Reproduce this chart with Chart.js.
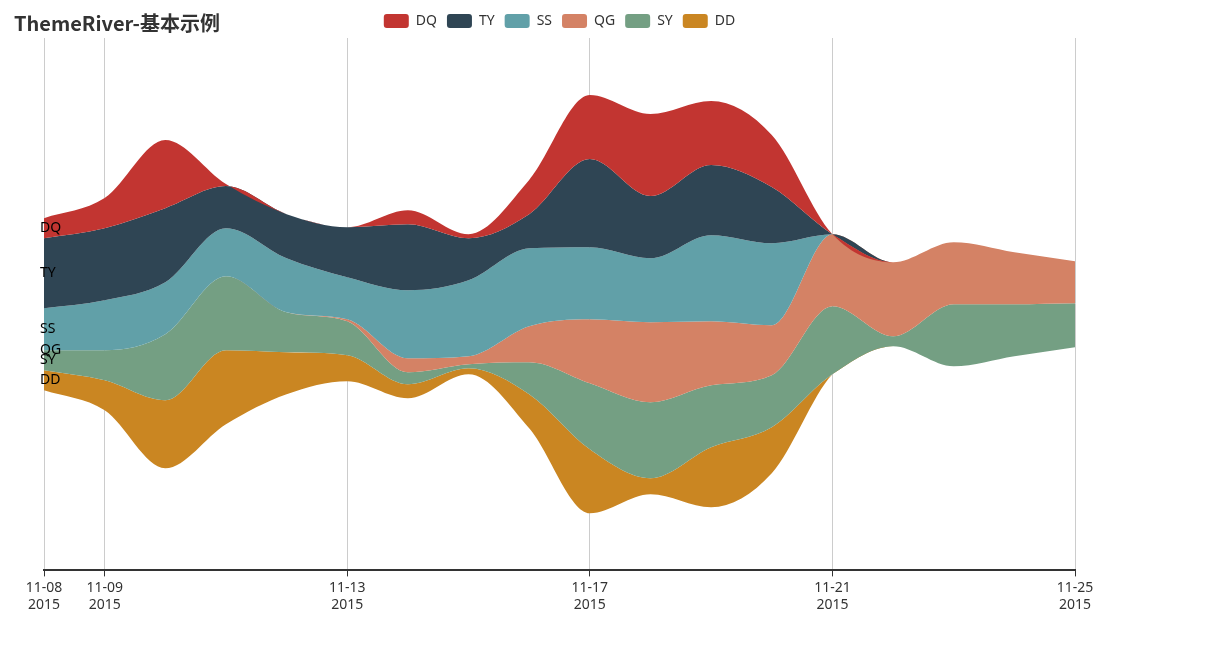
<!DOCTYPE html>
<html>
<head>
<meta charset="utf-8">
<script src="https://cdn.jsdelivr.net/npm/chart.js@4"></script>
<style>
  body { margin: 0; background: #fff; }
  #wrap { position: relative; width: 1206px; height: 666px; }
  #title { position: absolute; left: 14px; top: 8px; font: bold 20px 'Noto Sans CJK SC', sans-serif; color: #333; }
</style>
</head>
<body>
<div id="wrap">
  <div id="title">ThemeRiver-基本示例</div>
  <canvas id="river"></canvas>
</div>
<script>
// days 11-08 .. 11-25
const days = ['11-08','11-09','11-10','11-11','11-12','11-13','11-14','11-15','11-16',
              '11-17','11-18','11-19','11-20','11-21','11-22','11-23','11-24','11-25'];
const shownTicks = ['11-08','11-09','11-13','11-17','11-21','11-25'];
const seriesNames = ['DQ','TY','SS','QG','SY','DD'];
const colors = ['#c23531','#2f4554','#61a0a8','#d48265','#749f83','#ca8622'];

const DQ = [10, 15, 34, 1, 0, 0, 7, 2, 17, 32, 41, 32, 26, 0, 0, 0, 0, 0];
const TY = [35, 36, 37, 21, 22, 25, 33, 21, 17, 44, 31, 35, 28, 0, 0, 0, 0, 0];
const SS = [21, 25, 26, 24, 27, 21, 34, 38, 39, 36, 32, 43, 41, 0, 0, 0, 0, 0];
const QG = [0, 0, 0, 0, 0, 1, 7, 4, 18, 32, 40, 32, 25, 36, 37, 31, 26, 21];
const SY = [10, 15, 33, 37, 20, 17, 6, 2, 16, 33, 38, 31, 26, 34, 5, 31, 26, 22];
const DD = [10, 15, 34, 37, 21, 13, 7, 3, 17, 32, 8, 30, 23, 0, 0, 0, 0, 0];

const layers = [DQ, TY, SS, QG, SY, DD];

// boundaries: centred baseline, top of each layer, then bottom
const totals = days.map((d, i) => layers.reduce((s, l) => s + l[i], 0));
const bounds = [];
let cur = totals.map(t => t / 2);
layers.forEach(l => {
    bounds.push(cur.slice());
    cur = cur.map((v, i) => v - l[i]);
});
bounds.push(cur.slice());

const datasets = layers.map((l, k) => ({
    label: seriesNames[k],
    data: bounds[k],
    backgroundColor: colors[k],
    borderColor: colors[k],
    borderWidth: 0,
    pointRadius: 0,
    fill: '+1',
    cubicInterpolationMode: 'monotone'
}));
datasets.push({
    label: '_bottom',
    data: bounds[layers.length],
    borderWidth: 0,
    pointRadius: 0,
    fill: false,
    cubicInterpolationMode: 'monotone'
});

const layerLabels = {
    id: 'layerLabels',
    afterDatasetsDraw(chart) {
        const ctx = chart.ctx;
        const x = chart.scales.x.getPixelForValue(0);
        const y = chart.scales.y;
        ctx.save();
        ctx.font = '14px "Noto Sans", sans-serif';
        ctx.fillStyle = '#000';
        ctx.textBaseline = 'middle';
        seriesNames.forEach((n, k) => {
            const mid = (bounds[k][0] + bounds[k + 1][0]) / 2;
            ctx.fillText(n, x - 4, y.getPixelForValue(mid));
        });
        ctx.restore();
    }
};

new Chart(document.getElementById('river'), {
    type: 'line',
    data: { labels: days, datasets: datasets },
    plugins: [layerLabels],
    options: {
        responsive: true,
        maintainAspectRatio: false,
        animation: false,
        layout: { padding: { left: 44, right: 131, top: 4, bottom: 50 } },
        plugins: {
            tooltip: { enabled: false },
            legend: {
                position: 'top',
                labels: {
                    boxWidth: 25, boxHeight: 14, useBorderRadius: true, borderRadius: 3,
                    color: '#333', font: { size: 14, family: '"Noto Sans", sans-serif' },
                    padding: 10,
                    filter: item => item.text !== '_bottom'
                }
            }
        },
        scales: {
            x: {
                offset: false,
                grid: {
                    color: ctx => shownTicks.includes(days[ctx.index]) ? '#ccc' : 'rgba(0,0,0,0)',
                    tickColor: ctx => shownTicks.includes(days[ctx.index]) ? '#333' : 'rgba(0,0,0,0)',
                    tickLength: 6
                },
                border: { color: '#333', width: 2, dash: [] },
                ticks: {
                    autoSkip: false, maxRotation: 0, color: '#333',
                    font: { size: 14, family: '"Noto Sans", sans-serif' },
                    callback: function(v, i) {
                        return shownTicks.includes(days[i]) ? [days[i], '2015'] : '';
                    }
                }
            },
            y: { display: false, min: -133, max: 133 }
        }
    }
});
// dashed vertical grid
Chart.defaults.scale.grid.borderDash = [4, 4];
</script>
</body>
</html>
